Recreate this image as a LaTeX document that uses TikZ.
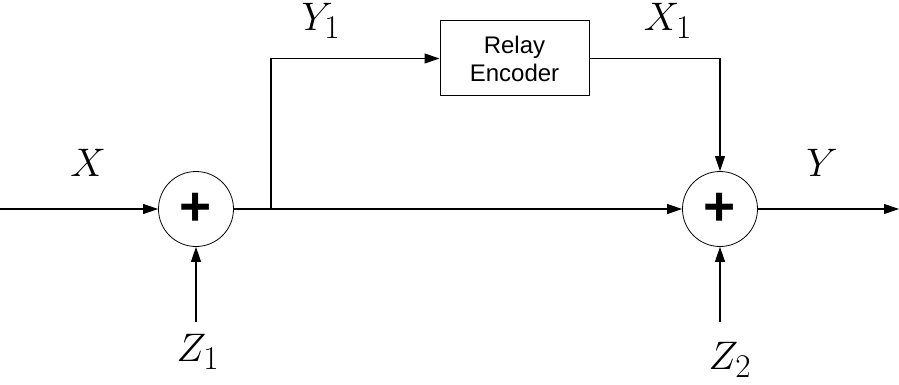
\documentclass[tikz,border=0pt]{standalone}
\usepackage{fontspec}
\newfontfamily\boxfont{Liberation Sans}
\usetikzlibrary{arrows.meta,positioning}

\begin{document}
\begin{tikzpicture}[x=1pt, y=-1pt,
  line width=1.1pt,
  sum/.style={draw, line width=0.8pt, circle, minimum size=75pt, inner sep=0pt, font=\boxfont\bfseries\fontsize{55}{55}\selectfont},
  blk/.style={draw, line width=1pt, minimum width=149pt, minimum height=75pt, align=center, font=\boxfont\fontsize{24}{28}\selectfont},
  lbl/.style={font=\Huge, scale=1.6, inner sep=0pt},
  arr/.style={-{Triangle[length=15pt, width=10pt]}}]
  \useasboundingbox (0,0) rectangle (899,385);
  % adders and the relay
  \node[sum] (s1) at (196,209) {+};
  \node[sum] (s2) at (720,209) {+};
  \node[blk] (enc) at (514.5,58.5) {Relay\\ Encoder};
  % free ends
  \coordinate (in) at (0,209);
  \coordinate (out) at (899,209);
  \coordinate (z1) at (196,322);
  \coordinate (z2) at (720,322);
  \coordinate (br) at (271,209);
  % signal labels
  \node[lbl] (x) at (88,163) {$X$};
  \node[lbl] (y) at (822,163) {$Y$};
  \node[lbl] (y1) at (321,21) {$Y_1$};
  \node[lbl] (x1) at (668,21) {$X_1$};
  \node[lbl] (lz1) at (198,352) {$Z_1$};
  \node[lbl] (lz2) at (730,360) {$Z_2$};
  % connectors
  \draw[arr] (in) -- (s1.west);
  \draw[arr] (z1) -- (s1.south);
  \draw[arr] (s1.east) -- (s2.west);
  \draw[arr] (br) |- (enc.west);
  \draw[arr] (enc.east) -| (s2.north);
  \draw[arr] (z2) -- (s2.south);
  \draw[arr] (s2.east) -- (out);
\end{tikzpicture}
\end{document}
